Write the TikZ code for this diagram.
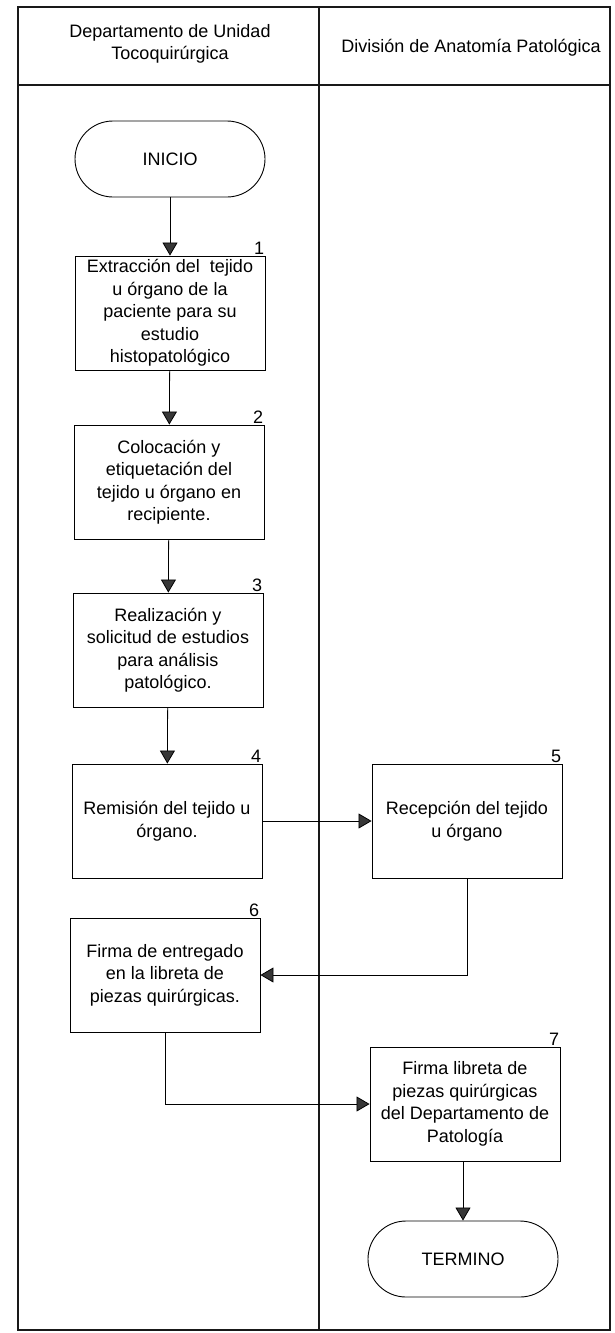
\documentclass[tikz,border=0pt]{standalone}
\usepackage{fontspec}
\setmainfont{Liberation Sans}
\usetikzlibrary{positioning,arrows.meta}
\definecolor{tipgray}{RGB}{55,55,55}
\definecolor{framegray}{RGB}{25,25,25}

\begin{document}
\begin{tikzpicture}[x=1pt,y=-1pt,
  >={Triangle[length=13pt,width=15pt,fill=tipgray]},
  proc/.style={draw,line width=0.9pt,minimum width=190pt,minimum height=114pt,align=center,inner sep=2pt,font=\fontsize{18}{22.5}\selectfont},
  term/.style={draw,line width=0.9pt,rounded corners=38pt,minimum width=190pt,minimum height=76pt,font=\fontsize{18}{22.5}\selectfont},
  num/.style={anchor=south east,inner sep=1pt,font=\fontsize{18}{18}\selectfont},
  ar/.style={->,line width=0.8pt},
  lane/.style={draw=framegray,line width=1.1pt},
  head/.style={align=center,font=\fontsize{18}{22}\selectfont}
]
\useasboundingbox (0,0) rectangle (614,1333);

% Swimlane frame
\draw[lane] (18,7) rectangle (610,1330);
\draw[lane] (18,85) -- (610,85);
\draw[lane] (319,7) -- (319,1330);
\node[head] (hleft) at (170,44) {Departamento de Unidad\\Tocoquirúrgica};
\node[head] (hright) at (471,48) {División de Anatomía Patológica};

% Left lane
\node[term] (ini) at (170,159) {INICIO};
\node[proc] (b1) at (170,313) {Extracción del\ \ tejido\\u órgano de la\\paciente para su\\estudio\\histopatológico};
\node[proc] (b2) at (169,482) {Colocación y\\etiquetación del\\tejido u órgano en\\recipiente.};
\node[proc] (b3) at (168,650) {Realización y\\solicitud de estudios\\para análisis\\patológico.};
\node[proc] (b4) at (167,821) {Remisión del tejido u\\órgano.};
\node[proc] (b6) at (165,975) {Firma de entregado\\en la libreta de\\piezas quirúrgicas.};

% Right lane
\node[proc] (b5) at (467,821) {Recepción del tejido\\u órgano};
\node[proc] (b7) at (465,1104) {Firma libreta de\\piezas quirúrgicas\\del Departamento de\\Patología};
\node[term] (fin) at (463,1259) {TERMINO};

% Step numbers
\node[num] at (b1.north east) {1};
\node[num] at (b2.north east) {2};
\node[num] at (b3.north east) {3};
\node[num] at (b4.north east) {4};
\node[num] at (b5.north east) {5};
\node[num] at (b6.north east) {6};
\node[num] at (b7.north east) {7};

% Flow
\draw[ar] (ini) -- (b1);
\draw[ar] (b1) -- (b2);
\draw[ar] (b2) -- (b3);
\draw[ar] (b3) -- (b4);
\draw[ar] (b4) -- (b5);
\draw[ar] (b5) |- (b6);
\draw[ar] (b6) |- (b7);
\draw[ar] (b7.south -| fin) -- (fin);
\end{tikzpicture}
\end{document}
